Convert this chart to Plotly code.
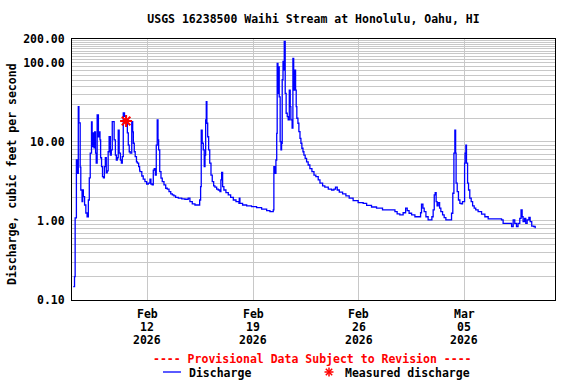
import plotly.graph_objects as go
import math

# ---------------- data ----------------
discharge_times = [
    "2026-02-07 02:00", "2026-02-07 04:00", "2026-02-07 05:00", "2026-02-07 07:00", "2026-02-07 08:30",
    "2026-02-07 10:00", "2026-02-07 11:00", "2026-02-07 13:00", "2026-02-07 14:00", "2026-02-07 16:00",
    "2026-02-07 17:00", "2026-02-07 18:00", "2026-02-07 20:00", "2026-02-07 22:00", "2026-02-08 00:00",
    "2026-02-08 02:00", "2026-02-08 03:30", "2026-02-08 05:00", "2026-02-08 07:00", "2026-02-08 08:00",
    "2026-02-08 09:00", "2026-02-08 10:00", "2026-02-08 11:00", "2026-02-08 12:00", "2026-02-08 13:30",
    "2026-02-08 14:30", "2026-02-08 16:00", "2026-02-08 18:00", "2026-02-08 19:00", "2026-02-08 20:30",
    "2026-02-08 21:30", "2026-02-08 23:00", "2026-02-09 00:30", "2026-02-09 02:00", "2026-02-09 03:30",
    "2026-02-09 05:00", "2026-02-09 06:30", "2026-02-09 08:00", "2026-02-09 09:30", "2026-02-09 11:00",
    "2026-02-09 13:00", "2026-02-09 14:30", "2026-02-09 16:00", "2026-02-09 17:30", "2026-02-09 19:00",
    "2026-02-09 21:00", "2026-02-09 22:30", "2026-02-10 00:00", "2026-02-10 01:30", "2026-02-10 03:00",
    "2026-02-10 05:00", "2026-02-10 06:30", "2026-02-10 08:00", "2026-02-10 09:30", "2026-02-10 11:30",
    "2026-02-10 14:00", "2026-02-10 16:00", "2026-02-10 17:30", "2026-02-10 19:00", "2026-02-10 20:30",
    "2026-02-10 23:00", "2026-02-11 00:30", "2026-02-11 01:30", "2026-02-11 03:00", "2026-02-11 04:30",
    "2026-02-11 06:30", "2026-02-11 08:00", "2026-02-11 10:00", "2026-02-11 11:30", "2026-02-11 12:00",
    "2026-02-11 15:00", "2026-02-11 17:15", "2026-02-11 20:00", "2026-02-11 22:45", "2026-02-12 01:15",
    "2026-02-12 04:00", "2026-02-12 05:30", "2026-02-12 07:30", "2026-02-12 09:15", "2026-02-12 10:45",
    "2026-02-12 12:30", "2026-02-12 14:00", "2026-02-12 15:30", "2026-02-12 16:45", "2026-02-12 17:45",
    "2026-02-12 19:30", "2026-02-12 21:30", "2026-02-12 23:30", "2026-02-13 02:15", "2026-02-13 05:00",
    "2026-02-13 07:30", "2026-02-13 10:15", "2026-02-13 13:00", "2026-02-13 15:30", "2026-02-13 18:00",
    "2026-02-13 20:45", "2026-02-14 01:00", "2026-02-14 06:30", "2026-02-14 11:30", "2026-02-14 16:45",
    "2026-02-14 19:30", "2026-02-14 23:15", "2026-02-15 03:30", "2026-02-15 08:45", "2026-02-15 11:00",
    "2026-02-15 12:30", "2026-02-15 13:30", "2026-02-15 15:00", "2026-02-15 16:45", "2026-02-15 18:15",
    "2026-02-15 19:30", "2026-02-15 20:30", "2026-02-15 21:30", "2026-02-15 22:30", "2026-02-15 23:45",
    "2026-02-16 01:15", "2026-02-16 03:00", "2026-02-16 05:00", "2026-02-16 07:00", "2026-02-16 09:15",
    "2026-02-16 11:15", "2026-02-16 14:00", "2026-02-16 16:30", "2026-02-16 19:15", "2026-02-16 20:45",
    "2026-02-16 22:00", "2026-02-16 23:30", "2026-02-17 01:30", "2026-02-17 04:45", "2026-02-17 08:30",
    "2026-02-17 12:15", "2026-02-17 16:30", "2026-02-17 20:45", "2026-02-18 01:30", "2026-02-18 02:00",
    "2026-02-18 03:00", "2026-02-18 07:15", "2026-02-18 13:45", "2026-02-18 21:30", "2026-02-19 05:30",
    "2026-02-19 13:30", "2026-02-19 21:30", "2026-02-20 02:45", "2026-02-20 08:00", "2026-02-20 09:00",
    "2026-02-20 10:45", "2026-02-20 12:15", "2026-02-20 13:30", "2026-02-20 14:15", "2026-02-20 15:30",
    "2026-02-20 16:30", "2026-02-20 17:30", "2026-02-20 19:00", "2026-02-20 20:15", "2026-02-20 21:15",
    "2026-02-20 22:15", "2026-02-20 23:30", "2026-02-21 00:30", "2026-02-21 01:30", "2026-02-21 03:00",
    "2026-02-21 04:30", "2026-02-21 06:15", "2026-02-21 07:45", "2026-02-21 09:30", "2026-02-21 11:00",
    "2026-02-21 12:00", "2026-02-21 13:15", "2026-02-21 14:00", "2026-02-21 15:15", "2026-02-21 16:30",
    "2026-02-21 17:15", "2026-02-21 18:30", "2026-02-21 19:30", "2026-02-21 20:30", "2026-02-21 21:30",
    "2026-02-21 23:15", "2026-02-22 00:45", "2026-02-22 02:30", "2026-02-22 04:00", "2026-02-22 05:30",
    "2026-02-22 07:15", "2026-02-22 08:45", "2026-02-22 10:45", "2026-02-22 13:00", "2026-02-22 15:30",
    "2026-02-22 18:15", "2026-02-22 21:30", "2026-02-23 00:45", "2026-02-23 03:45", "2026-02-23 07:30",
    "2026-02-23 10:15", "2026-02-23 14:30", "2026-02-23 18:00", "2026-02-23 23:30", "2026-02-24 04:45",
    "2026-02-24 08:30", "2026-02-24 11:00", "2026-02-24 13:45", "2026-02-24 17:00", "2026-02-24 22:15",
    "2026-02-25 03:30", "2026-02-25 08:45", "2026-02-25 15:00", "2026-02-25 23:00", "2026-02-26 07:00",
    "2026-02-26 12:30", "2026-02-26 20:15", "2026-02-27 04:15", "2026-02-27 13:45", "2026-02-28 01:30",
    "2026-02-28 09:30", "2026-02-28 13:00", "2026-02-28 17:15", "2026-02-28 22:30", "2026-03-01 02:30",
    "2026-03-01 05:00", "2026-03-01 08:00", "2026-03-01 12:00", "2026-03-01 17:15", "2026-03-02 00:00",
    "2026-03-02 02:15", "2026-03-02 03:45", "2026-03-02 06:00", "2026-03-02 08:00", "2026-03-02 10:45",
    "2026-03-02 14:15", "2026-03-02 18:00", "2026-03-02 20:15", "2026-03-02 22:15", "2026-03-03 00:00",
    "2026-03-03 01:30", "2026-03-03 03:00", "2026-03-03 04:30", "2026-03-03 06:15", "2026-03-03 08:30",
    "2026-03-03 10:30", "2026-03-03 13:15", "2026-03-03 15:45", "2026-03-03 18:30", "2026-03-04 00:45",
    "2026-03-04 03:30", "2026-03-04 05:30", "2026-03-04 07:15", "2026-03-04 08:45", "2026-03-04 10:00",
    "2026-03-04 10:45", "2026-03-04 12:30", "2026-03-04 14:30", "2026-03-04 16:45", "2026-03-04 18:45",
    "2026-03-04 21:00", "2026-03-04 23:00", "2026-03-05 00:15", "2026-03-05 01:00", "2026-03-05 02:15",
    "2026-03-05 03:15", "2026-03-05 05:00", "2026-03-05 06:30", "2026-03-05 08:30", "2026-03-05 10:45",
    "2026-03-05 13:00", "2026-03-05 15:30", "2026-03-05 18:00", "2026-03-05 21:45", "2026-03-06 03:15",
    "2026-03-06 08:30", "2026-03-06 13:45", "2026-03-07 11:00", "2026-03-07 13:30", "2026-03-07 23:00",
    "2026-03-08 03:00", "2026-03-08 05:30", "2026-03-08 08:00", "2026-03-08 10:45", "2026-03-08 13:15",
    "2026-03-08 16:00", "2026-03-08 18:00", "2026-03-08 19:45", "2026-03-08 21:15", "2026-03-08 23:30",
    "2026-03-09 01:30", "2026-03-09 03:45", "2026-03-09 06:30", "2026-03-09 08:30", "2026-03-09 11:00",
    "2026-03-09 14:15", "2026-03-09 16:30",
]
discharge_cfs = [
    0.148, 0.198, 1.09, 5.9, 4.0,
    27.9, 17.4, 4.8, 2.46, 1.75,
    2.46, 2.03, 1.59, 1.26, 1.13,
    1.84, 3.5, 7.2, 17.9, 11.6,
    8.7, 13.0, 8.4, 13.4, 7.2,
    5.4, 21.9, 11.6, 13.4, 10.6,
    6.3, 4.86, 3.63, 3.5, 4.86,
    6.3, 4.05, 4.3, 7.5, 11.6,
    6.8, 7.9, 18.0, 18.0, 10.6,
    6.8, 5.9, 6.3, 14.1, 7.2,
    5.9, 5.4, 6.5, 23.2, 21.0,
    17.4, 13.0, 9.1, 7.5, 7.2,
    18.0, 13.4, 9.6, 7.5, 6.5,
    5.6, 5.4, 4.86, 4.4, 4.2,
    3.7, 3.37, 3.14, 2.93, 3.0,
    3.37, 2.93, 2.85, 4.4, 4.6,
    3.8, 9.1, 19.0, 10.6, 7.9,
    4.2, 3.47, 3.14, 2.85, 2.59,
    2.52, 2.35, 2.2, 2.13, 2.07,
    1.99, 1.94, 1.9, 1.88, 1.94,
    1.75, 1.64, 1.59, 1.59, 1.84,
    2.72, 14.1, 9.6, 7.9, 4.86,
    6.8, 19.0, 32.2, 17.2, 11.6,
    7.9, 5.4, 3.8, 3.14, 2.77,
    2.67, 2.52, 2.46, 2.35, 3.3,
    4.1, 2.72, 2.46, 2.28, 2.13,
    1.99, 1.84, 1.75, 1.67, 1.94,
    1.67, 1.59, 1.55, 1.52, 1.47,
    1.41, 1.35, 1.31, 1.38, 4.86,
    4.0, 5.9, 12.8, 98.6, 41.0,
    89.0, 37.0, 10.1, 7.9, 9.6,
    61.0, 104.0, 81.0, 186.0, 41.0,
    23.0, 20.9, 19.0, 45.0, 27.9,
    19.0, 19.0, 14.9, 114.0, 81.0,
    45.0, 81.0, 45.0, 27.9, 19.9,
    17.2, 13.5, 11.1, 9.6, 8.3,
    7.5, 6.8, 6.2, 5.6, 5.1,
    4.6, 4.2, 3.8, 3.63, 3.3,
    3.0, 2.77, 2.67, 2.52, 2.46,
    2.52, 2.67, 2.46, 2.31, 2.2,
    2.07, 1.94, 1.81, 1.70, 1.67,
    1.57, 1.50, 1.45, 1.38, 1.38,
    1.31, 1.23, 1.19, 1.27, 1.45,
    1.35, 1.25, 1.19, 1.13, 1.13,
    1.27, 1.63, 1.45, 1.31, 1.13,
    1.03, 1.03, 1.13, 1.38, 2.13,
    2.28, 1.75, 1.55, 1.70, 1.45,
    1.31, 1.19, 1.10, 1.03, 1.03,
    1.25, 2.24, 7.2, 14.1, 7.2,
    3.0, 2.35, 1.84, 1.67, 1.64,
    1.75, 1.75, 5.4, 7.2, 9.1,
    5.4, 3.0, 2.46, 1.94, 1.75,
    1.55, 1.45, 1.38, 1.31, 1.22,
    1.13, 1.06, 1.03, 0.93, 0.93,
    0.85, 1.03, 0.93, 0.85, 0.93,
    1.08, 1.38, 1.13, 0.98, 1.08,
    0.93, 1.03, 1.11, 0.98, 0.86,
    0.85, 0.81,
]

measured_times = ["2026-02-10 14:00"]
measured_cfs = [18.4]

x_range = ["2026-02-07 00:00", "2026-03-11 00:00"]
x_tick_dates = ["2026-02-12", "2026-02-19", "2026-02-26", "2026-03-05"]
x_tick_lines = [("Feb", "12", "2026"), ("Feb", "19", "2026"), ("Feb", "26", "2026"), ("Mar", "05", "2026")]

y_range = [0.1, 200]
y_grid_values = ([k / 10 for k in range(1, 10)] + list(range(1, 10)) +
                 list(range(10, 100, 10)) + list(range(100, 201, 10)))
y_label_values = {0.1: "0.10", 1: "1.00", 10: "10.00", 100: "100.00", 200: "200.00"}

title_text = "USGS 16238500 Waihi Stream at Honolulu, Oahu, HI"
y_title = "Discharge, cubic feet per second"
provisional_text = "---- Provisional Data Subject to Revision ----"
legend_names = ["Discharge", "Measured discharge"]

# ---------------- styling ----------------
FONT = dict(family="DejaVu Sans Mono", size=11.5, color="black", weight="bold")
GRID = "#c8c8c8"
W, H = 576, 384
L, R, T, B = 72, 21, 39, 84
PW, PH = W - L - R, H - T - B


def px_to_paper(px, py):
    return (px - L) / PW, (H - B - py) / PH


fig = go.Figure()
fig.add_trace(go.Scatter(
    x=discharge_times, y=discharge_cfs, mode="lines",
    line=dict(color="#0000ff", width=1.3, shape="hv"),
    name=legend_names[0], showlegend=False, hoverinfo="x+y"))
fig.add_trace(go.Scatter(
    x=measured_times, y=measured_cfs, mode="markers",
    marker=dict(symbol="asterisk-open", size=10, color="red",
                line=dict(color="red", width=2)),
    name=legend_names[1], showlegend=False))

ticktext = [y_label_values.get(v, "") for v in y_grid_values]

fig.update_layout(
    width=W, height=H,
    margin=dict(l=L, r=R, t=T, b=B),
    paper_bgcolor="white", plot_bgcolor="white",
    font=FONT,
    showlegend=False,
    title=dict(text=title_text, x=0.5, xref="paper", xanchor="center",
               y=1 - 19 / H, yanchor="middle", font=FONT),
    xaxis=dict(type="date", range=x_range, tickvals=x_tick_dates, showticklabels=False,
               showgrid=True, gridcolor=GRID, gridwidth=1,
               showline=True, linecolor="black", linewidth=1, mirror=True,
               ticks="", zeroline=False),
    yaxis=dict(type="log", range=[math.log10(y_range[0]), math.log10(y_range[1])],
               tickvals=y_grid_values, ticktext=ticktext,
               showgrid=True, gridcolor=GRID, gridwidth=1,
               showline=True, linecolor="black", linewidth=1, mirror=True,
               ticks="", ticklabelstandoff=4, tickfont=FONT, zeroline=False),
)

annotations = []
for d, lines in zip(x_tick_dates, x_tick_lines):
    for i, txt in enumerate(lines):
        annotations.append(dict(x=d, xref="x", y=0, yref="paper", yshift=-14 - 13 * i,
                                text=txt, showarrow=False, xanchor="center",
                                yanchor="middle", font=FONT))

ax, ay = px_to_paper(12, 174)
annotations.append(dict(x=ax, y=ay, xref="paper", yref="paper", text=y_title,
                        textangle=-90, showarrow=False, xanchor="center",
                        yanchor="middle", font=FONT))
px_, py_ = px_to_paper(312.5, 359)
annotations.append(dict(x=px_, y=py_, xref="paper", yref="paper", text=provisional_text,
                        showarrow=False, xanchor="center", yanchor="middle",
                        font=dict(FONT, color="red")))
lx, ly = px_to_paper(187, 373)
annotations.append(dict(x=lx, y=ly, xref="paper", yref="paper", text=legend_names[0],
                        showarrow=False, xanchor="left", yanchor="middle", font=FONT))
mx, my = px_to_paper(343, 373)
annotations.append(dict(x=mx, y=my, xref="paper", yref="paper", text=legend_names[1],
                        showarrow=False, xanchor="left", yanchor="middle", font=FONT))
fig.update_layout(annotations=annotations)

shapes = []
x0, y0 = px_to_paper(163, 372)
x1, _ = px_to_paper(181, 372)
shapes.append(dict(type="line", xref="paper", yref="paper", x0=x0, x1=x1, y0=y0, y1=y0,
                   line=dict(color="#0000ff", width=1.3)))
cx, cy = 329, 372
for dx, dy in [(4.5, 0), (0, 4.5), (3.2, 3.2), (3.2, -3.2)]:
    a0, b0 = px_to_paper(cx - dx, cy - dy)
    a1, b1 = px_to_paper(cx + dx, cy + dy)
    shapes.append(dict(type="line", xref="paper", yref="paper", x0=a0, x1=a1, y0=b0, y1=b1,
                       line=dict(color="red", width=1.5)))
fig.update_layout(shapes=shapes)

fig.write_html("out.html", config={"displayModeBar": False},
               post_script="document.body.style.margin='0';")
